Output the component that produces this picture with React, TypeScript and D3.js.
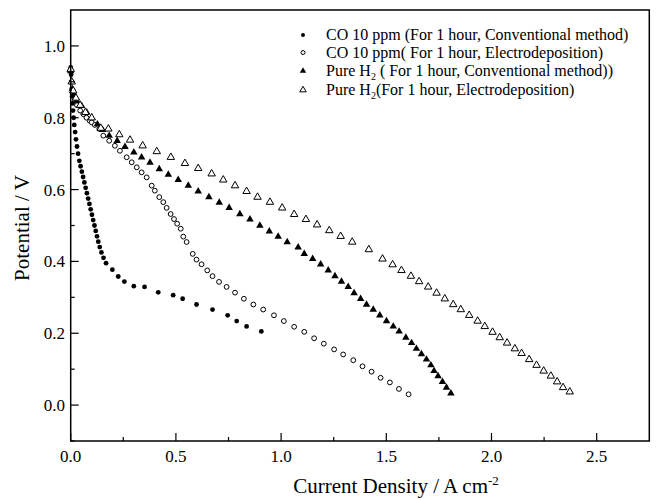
import React from "react";
import * as d3 from "d3";

const coConvX = [0, 0.002, 0.004, 0.005, 0.007, 0.009, 0.011, 0.014, 0.017, 0.021, 0.025, 0.03, 0.035, 0.041, 0.047, 0.053, 0.059, 0.065, 0.071, 0.077, 0.083, 0.089, 0.095, 0.101, 0.107, 0.113, 0.119, 0.125, 0.131, 0.138, 0.146, 0.156, 0.168, 0.198, 0.226, 0.255, 0.3, 0.351, 0.416, 0.487, 0.532, 0.598, 0.674, 0.746, 0.789, 0.836, 0.906];
const coConvY = [0.94, 0.92, 0.9, 0.88, 0.86, 0.84, 0.82, 0.8, 0.78, 0.76, 0.74, 0.72, 0.7, 0.68, 0.665, 0.65, 0.635, 0.62, 0.605, 0.59, 0.575, 0.56, 0.545, 0.53, 0.515, 0.5, 0.485, 0.47, 0.455, 0.44, 0.425, 0.41, 0.395, 0.377, 0.358, 0.344, 0.331, 0.329, 0.314, 0.306, 0.296, 0.28, 0.266, 0.25, 0.234, 0.219, 0.205];

const coElecX = [0, 0.005, 0.01, 0.02, 0.03, 0.045, 0.06, 0.075, 0.09, 0.1, 0.115, 0.136, 0.155, 0.183, 0.21, 0.234, 0.266, 0.29, 0.314, 0.337, 0.361, 0.385, 0.4, 0.421, 0.44, 0.456, 0.475, 0.491, 0.506, 0.523, 0.535, 0.551, 0.58, 0.598, 0.622, 0.649, 0.674, 0.705, 0.741, 0.781, 0.823, 0.868, 0.915, 0.966, 1.013, 1.062, 1.11, 1.157, 1.203, 1.252, 1.295, 1.343, 1.387, 1.43, 1.473, 1.517, 1.56, 1.606];
const coElecY = [0.93, 0.9, 0.875, 0.85, 0.835, 0.82, 0.81, 0.8, 0.792, 0.787, 0.78, 0.769, 0.75, 0.736, 0.722, 0.708, 0.69, 0.676, 0.662, 0.648, 0.634, 0.611, 0.597, 0.579, 0.565, 0.549, 0.532, 0.518, 0.505, 0.491, 0.469, 0.454, 0.421, 0.405, 0.392, 0.375, 0.359, 0.343, 0.329, 0.313, 0.296, 0.28, 0.266, 0.25, 0.234, 0.218, 0.204, 0.186, 0.171, 0.155, 0.141, 0.125, 0.108, 0.093, 0.076, 0.063, 0.045, 0.03];

const h2ConvX = [0, 0.003, 0.008, 0.015, 0.028, 0.052, 0.076, 0.1, 0.127, 0.152, 0.183, 0.221, 0.258, 0.3, 0.337, 0.377, 0.421, 0.464, 0.511, 0.559, 0.606, 0.657, 0.706, 0.753, 0.804, 0.852, 0.899, 0.944, 0.986, 1.029, 1.081, 1.11, 1.15, 1.188, 1.224, 1.256, 1.287, 1.319, 1.347, 1.378, 1.406, 1.438, 1.469, 1.501, 1.533, 1.561, 1.593, 1.62, 1.643, 1.667, 1.691, 1.712, 1.727, 1.746, 1.767, 1.786, 1.807];
const h2ConvY = [0.93, 0.9, 0.88, 0.865, 0.847, 0.833, 0.815, 0.8, 0.782, 0.766, 0.75, 0.736, 0.719, 0.704, 0.69, 0.675, 0.657, 0.642, 0.627, 0.611, 0.595, 0.579, 0.564, 0.549, 0.532, 0.517, 0.5, 0.484, 0.469, 0.454, 0.439, 0.421, 0.407, 0.392, 0.375, 0.359, 0.344, 0.329, 0.312, 0.296, 0.28, 0.266, 0.25, 0.234, 0.219, 0.205, 0.188, 0.173, 0.157, 0.142, 0.127, 0.111, 0.095, 0.081, 0.065, 0.049, 0.033];

const h2ElecX = [0, 0.005, 0.012, 0.025, 0.045, 0.07, 0.1, 0.143, 0.179, 0.231, 0.282, 0.342, 0.409, 0.476, 0.543, 0.606, 0.67, 0.725, 0.781, 0.836, 0.888, 0.947, 1.005, 1.062, 1.118, 1.171, 1.229, 1.283, 1.338, 1.417, 1.482, 1.53, 1.572, 1.617, 1.656, 1.699, 1.739, 1.778, 1.818, 1.854, 1.894, 1.934, 1.968, 2.005, 2.039, 2.074, 2.111, 2.143, 2.179, 2.214, 2.248, 2.282, 2.312, 2.34, 2.372];
const h2ElecY = [0.935, 0.9, 0.875, 0.855, 0.835, 0.815, 0.8, 0.771, 0.769, 0.753, 0.738, 0.722, 0.706, 0.69, 0.673, 0.659, 0.644, 0.627, 0.611, 0.595, 0.579, 0.565, 0.549, 0.531, 0.517, 0.502, 0.486, 0.47, 0.454, 0.433, 0.407, 0.391, 0.375, 0.359, 0.344, 0.329, 0.312, 0.296, 0.28, 0.266, 0.25, 0.234, 0.219, 0.203, 0.188, 0.173, 0.157, 0.144, 0.127, 0.111, 0.095, 0.081, 0.065, 0.049, 0.037];

const xTicks = [0, 0.5, 1.0, 1.5, 2.0, 2.5];
const xMinor = [0.25, 0.75, 1.25, 1.75, 2.25];
const yTicks = [0, 0.2, 0.4, 0.6, 0.8, 1.0];
const yMinor = [-0.1, 0.1, 0.3, 0.5, 0.7, 0.9];

const legendLabels = [
  "CO 10 ppm (For 1 hour, Conventional method)",
  "CO 10 ppm( For 1 hour, Electrodeposition)",
  "Pure H",
  "Pure H",
];

const W = 657;
const H = 500;
const left = 70.7;
const right = 649.3;
const top = 10;
const bottom = 441;
const FONT = "'Liberation Serif', 'Times New Roman', serif";

function zip(xs: number[], ys: number[]) {
  return xs.map((x, i) => [x, ys[i]] as [number, number]);
}

export default function App() {
  const x = d3.scaleLinear().domain([0, 2.75]).range([left, right]);
  const y = d3.scaleLinear().domain([-0.1, 1.1]).range([bottom, top]);
  const tri = d3.symbol().type(d3.symbolTriangle).size(24)()!;
  const triLeg = d3.symbol().type(d3.symbolTriangle).size(18)()!;

  const s1 = zip(coConvX, coConvY);
  const s2 = zip(coElecX, coElecY);
  const s3 = zip(h2ConvX, h2ConvY);
  const s4 = zip(h2ElecX, h2ElecY);

  const legY = [35, 52.5, 71, 90];
  const legMX = 303;
  const legTX = 326;

  return (
    <svg width={W} height={H} style={{ position: "absolute", left: 0, top: 0, background: "#fff" }} fontFamily={FONT}>
      <rect x={0} y={0} width={W} height={H} fill="#fff" />
      {/* data */}
      {s1.map((d, i) => (
        <circle key={"a" + i} cx={x(d[0])} cy={y(d[1])} r={2.4} fill="#000" />
      ))}
      {s2.map((d, i) => (
        <circle key={"b" + i} cx={x(d[0])} cy={y(d[1])} r={2.4} fill="#fff" stroke="#000" strokeWidth={1} />
      ))}
      {s3.map((d, i) => (
        <path key={"c" + i} d={tri} transform={`translate(${x(d[0])},${y(d[1])})`} fill="#000" />
      ))}
      {s4.map((d, i) => (
        <path key={"d" + i} d={tri} transform={`translate(${x(d[0])},${y(d[1])})`} fill="#fff" stroke="#000" strokeWidth={1} />
      ))}

      {/* frame */}
      <rect x={left} y={top} width={right - left} height={bottom - top} fill="none" stroke="#000" strokeWidth={1.5} />

      {/* x ticks */}
      {xTicks.map((t) => (
        <g key={"xt" + t}>
          <line x1={x(t)} x2={x(t)} y1={bottom} y2={bottom - 8} stroke="#000" strokeWidth={1.2} />
          <text x={x(t)} y={462} fontSize={17} textAnchor="middle">{t.toFixed(1)}</text>
        </g>
      ))}
      {xMinor.map((t) => (
        <line key={"xm" + t} x1={x(t)} x2={x(t)} y1={bottom} y2={bottom - 4} stroke="#000" strokeWidth={1.2} />
      ))}
      {/* y ticks */}
      {yTicks.map((t) => (
        <g key={"yt" + t}>
          <line x1={left} x2={left + 8} y1={y(t)} y2={y(t)} stroke="#000" strokeWidth={1.2} />
          <text x={65} y={y(t) + 6} fontSize={17} textAnchor="end">{t.toFixed(1)}</text>
        </g>
      ))}
      {yMinor.map((t) => (
        <line key={"ym" + t} x1={left} x2={left + 4} y1={y(t)} y2={y(t)} stroke="#000" strokeWidth={1.2} />
      ))}

      {/* axis titles */}
      <text x={396} y={493} fontSize={21} textAnchor="middle">
        Current Density / A cm<tspan dy={-8} fontSize={13}>-2</tspan>
      </text>
      <text transform={`translate(29,228) rotate(-90)`} fontSize={21} textAnchor="middle">Potential / V</text>

      {/* legend */}
      <circle cx={legMX} cy={legY[0]} r={2} fill="#000" />
      <circle cx={legMX} cy={legY[1]} r={2} fill="#fff" stroke="#000" strokeWidth={1} />
      <path d={triLeg} transform={`translate(${legMX},${legY[2]})`} fill="#000" />
      <path d={triLeg} transform={`translate(${legMX},${legY[3]})`} fill="#fff" stroke="#000" strokeWidth={1} />
      <text x={legTX} y={legY[0] + 5} fontSize={16}>{legendLabels[0]}</text>
      <text x={legTX} y={legY[1] + 5} fontSize={16}>{legendLabels[1]}</text>
      <text x={legTX} y={legY[2] + 5} fontSize={16}>
        {legendLabels[2]}
        <tspan dy={4} fontSize={10}>2</tspan>
        <tspan dy={-4}> ( For 1 hour, Conventional method))</tspan>
      </text>
      <text x={legTX} y={legY[3] + 5} fontSize={16}>
        {legendLabels[3]}
        <tspan dy={4} fontSize={10}>2</tspan>
        <tspan dy={-4}>(For 1 hour, Electrodeposition)</tspan>
      </text>
    </svg>
  );
}
